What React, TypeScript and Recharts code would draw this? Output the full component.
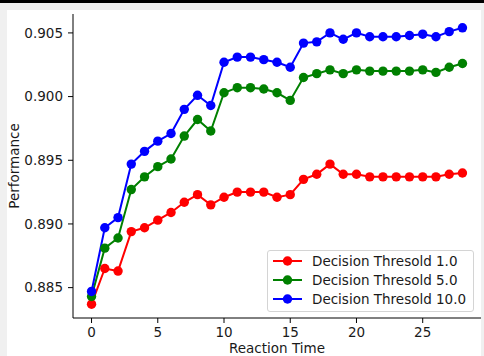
import React from 'react';
import { LineChart, Line, XAxis, YAxis, Legend } from 'recharts';

const reactionTime = [0, 1, 2, 3, 4, 5, 6, 7, 8, 9, 10, 11, 12, 13, 14, 15, 16, 17, 18, 19, 20, 21, 22, 23, 24, 25, 26, 27, 28];

const threshold1 = [0.8837, 0.8865, 0.8863, 0.8894, 0.8897, 0.8903, 0.8909, 0.8917, 0.8923, 0.8915, 0.8921, 0.8925, 0.8925, 0.8925, 0.8921, 0.8923, 0.8935, 0.8939, 0.8947, 0.8939, 0.8939, 0.8937, 0.8937, 0.8937, 0.8937, 0.8937, 0.8937, 0.8939, 0.894];
const threshold5 = [0.8843, 0.8881, 0.8889, 0.8927, 0.8937, 0.8945, 0.8951, 0.8969, 0.8982, 0.8973, 0.9003, 0.9007, 0.9007, 0.9006, 0.9003, 0.8997, 0.9015, 0.9018, 0.9021, 0.9018, 0.9021, 0.902, 0.902, 0.902, 0.902, 0.9021, 0.9019, 0.9023, 0.9026];
const threshold10 = [0.8847, 0.8897, 0.8905, 0.8947, 0.8957, 0.8965, 0.8971, 0.899, 0.9001, 0.8993, 0.9027, 0.9031, 0.9031, 0.9029, 0.9027, 0.9023, 0.9042, 0.9043, 0.905, 0.9045, 0.905, 0.9047, 0.9047, 0.9047, 0.9048, 0.9049, 0.9047, 0.9051, 0.9054];

const seriesNames = ['Decision Thresold 1.0', 'Decision Thresold 5.0', 'Decision Thresold 10.0'];
const xTicks = [0, 5, 10, 15, 20, 25];
const yTicks = [0.885, 0.89, 0.895, 0.9, 0.905];

const data = reactionTime.map((t, i) => ({
  t,
  d1: threshold1[i],
  d5: threshold5[i],
  d10: threshold10[i],
}));

const FONT = '"DejaVu Sans", sans-serif';
const TEXT = '#1a1a1a';
const tickStyle = { fontFamily: FONT, fontSize: 13.5, fill: TEXT };

// keep the legend in plotting order (recharts sorts by name otherwise)
const renderLegend = (props: any) => {
  const payload = [...(props.payload || [])].sort(
    (a: any, b: any) => seriesNames.indexOf(a.value) - seriesNames.indexOf(b.value)
  );
  return (
    <div
      style={{
        boxSizing: 'border-box',
        width: 207,
        height: 62,
        border: '1px solid #d4d4d4',
        borderRadius: 3,
        background: 'rgba(255,255,255,0.85)',
        padding: '0 5px',
        fontFamily: FONT,
        fontSize: 13.5,
        color: TEXT,
      }}
    >
      {payload.map((entry: any) => (
        <div key={entry.value} style={{ display: 'flex', alignItems: 'center', height: 19.2 }}>
          <svg width={29} height={12} style={{ display: 'block' }}>
            <line x1={0} y1={6} x2={29} y2={6} stroke={entry.color} strokeWidth={2} />
            <circle cx={14.5} cy={6} r={4.7} fill={entry.color} />
          </svg>
          <span style={{ marginLeft: 10, whiteSpace: 'nowrap' }}>{entry.value}</span>
        </div>
      ))}
    </div>
  );
};

export default function App() {
  return (
    <div style={{ position: 'absolute', left: 0, top: 0, width: 484, height: 356, background: '#f0f0f0', overflow: 'hidden' }}>
      <div style={{ position: 'absolute', left: 0, top: 0, width: 484, height: 3, background: '#000' }} />
      <div style={{ position: 'absolute', left: 7, top: 10, width: 474, height: 346, background: '#fff' }} />
      <div style={{ position: 'absolute', left: 0, top: 0 }}>
        <LineChart width={484} height={356} data={data} margin={{ top: 14, right: 3, bottom: 0, left: 0 }}>
          <XAxis
            dataKey="t"
            type="number"
            domain={[-1.4, 29.4]}
            ticks={xTicks}
            allowDataOverflow
            height={38}
            tickSize={5}
            tickMargin={4}
            tick={tickStyle}
            axisLine={{ stroke: '#000' }}
            tickLine={{ stroke: '#000' }}
            label={{ value: 'Reaction Time', position: 'insideBottom', offset: 3, style: { fontFamily: FONT, fontSize: 13.5, fill: TEXT } }}
          />
          <XAxis xAxisId="top" orientation="top" type="number" dataKey="t" domain={[-1.4, 29.4]} allowDataOverflow height={0} tick={false} tickLine={false} axisLine={{ stroke: '#000' }} />
          <YAxis
            type="number"
            domain={[0.882615, 0.906485]}
            ticks={yTicks}
            allowDataOverflow
            width={73}
            tickSize={5}
            tickMargin={5}
            tick={tickStyle}
            tickFormatter={(v: number) => v.toFixed(3)}
            axisLine={{ stroke: '#000' }}
            tickLine={{ stroke: '#000' }}
            label={{ value: 'Performance', angle: -90, position: 'insideLeft', offset: 14, style: { textAnchor: 'middle', fontFamily: FONT, fontSize: 13.5, fill: TEXT } }}
          />
          <YAxis yAxisId="right" orientation="right" type="number" domain={[0.882615, 0.906485]} allowDataOverflow width={0} tick={false} tickLine={false} axisLine={{ stroke: '#000' }} />
          <Legend layout="vertical" align="center" verticalAlign="middle" content={renderLegend} wrapperStyle={{ left: 267, top: 250, width: 207, height: 62 }} />
          <Line dataKey="d1" name={seriesNames[0]} stroke="#ff0000" strokeWidth={2} dot={{ r: 4.7, fill: '#ff0000', stroke: 'none' }} isAnimationActive={false} />
          <Line dataKey="d5" name={seriesNames[1]} stroke="#008000" strokeWidth={2} dot={{ r: 4.7, fill: '#008000', stroke: 'none' }} isAnimationActive={false} />
          <Line dataKey="d10" name={seriesNames[2]} stroke="#0000ff" strokeWidth={2} dot={{ r: 4.7, fill: '#0000ff', stroke: 'none' }} isAnimationActive={false} />
        </LineChart>
      </div>
    </div>
  );
}
